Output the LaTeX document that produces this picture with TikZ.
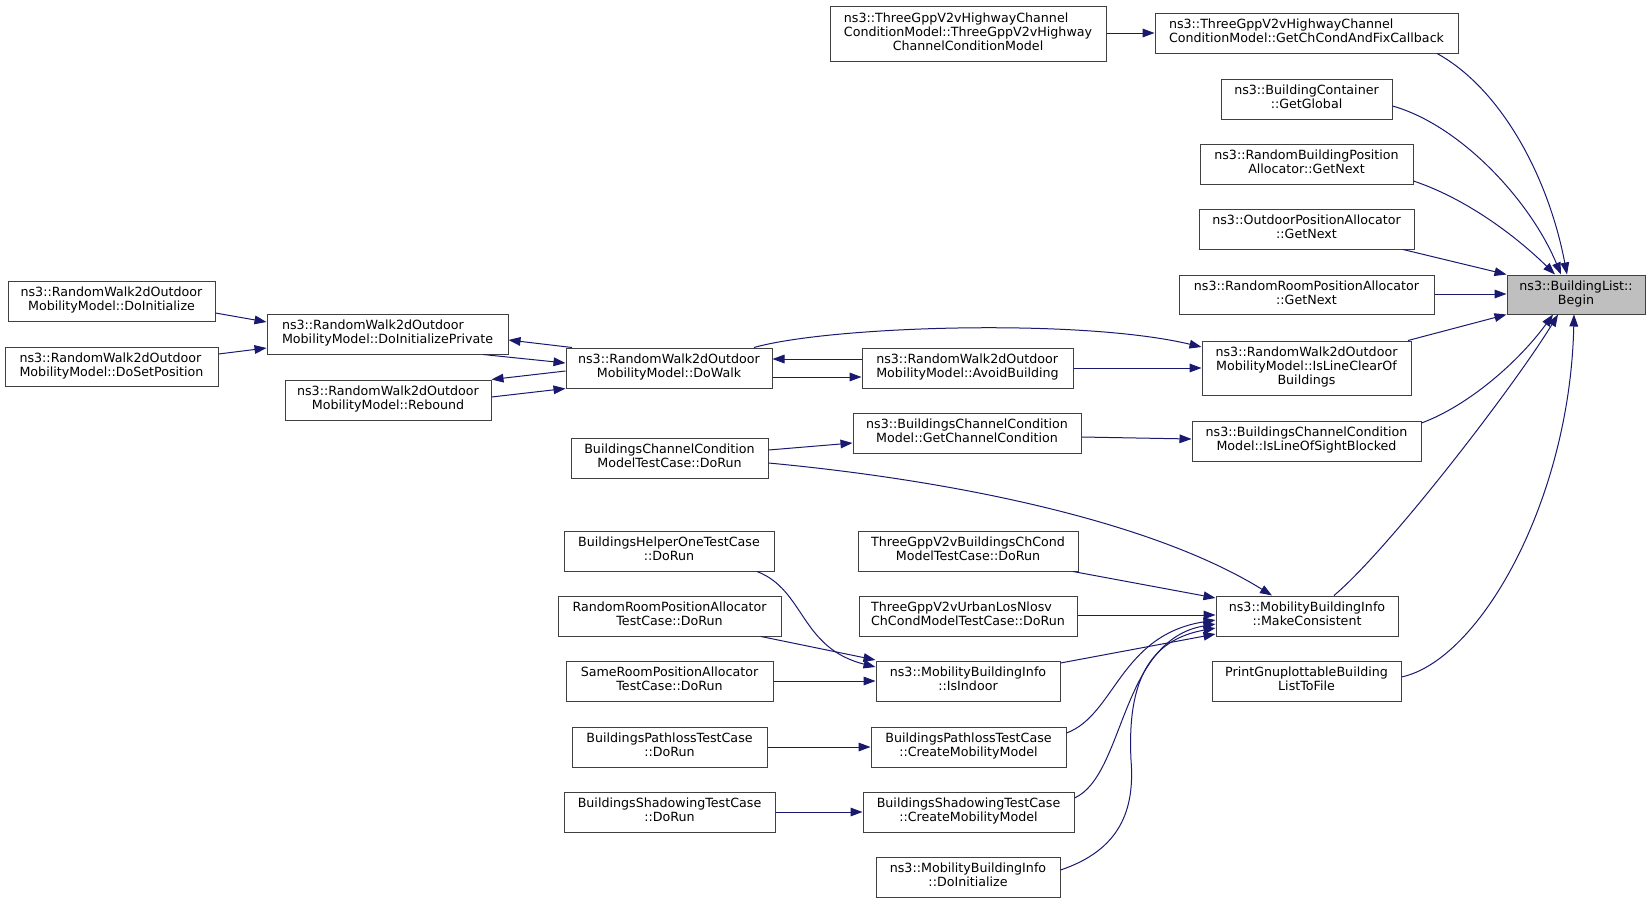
\documentclass[tikz,border=0pt]{standalone}
\usepackage{fontspec}
\setmainfont{DejaVu Sans}
\usetikzlibrary{arrows.meta}
\definecolor{edgec}{HTML}{191970}
\definecolor{nodeb}{HTML}{404040}
\newcommand\tbl[1]{\begin{tabular}{@{}c@{}}#1\end{tabular}}
\newcommand\lfl[1]{\multicolumn{1}{@{}l@{}}{#1}}
\newcommand\bx[7][]{\node[box,#1, minimum width={(#5-#3)*0.75pt}, minimum height={(#6-#4)*0.75pt}] (#2) at ({(#3+#5)/2},{(#4+#6)/2}) {\tbl{#7}};}
\tikzset{
  box/.style={draw=nodeb, fill=white, line width=0.75pt, inner sep=0pt, rectangle},
  e/.style={draw=edgec, line width=0.75pt, -{Triangle[length=9pt,width=6.5pt]}, fill=none},
}
\begin{document}
\begin{tikzpicture}[x=0.75pt,y=-0.75pt,font=\fontsize{9.5}{10.5}\selectfont]
\fill[white] (0,0) rectangle (1651,903);
\useasboundingbox (0,0) rectangle (1651,903);

\bx[fill=gray!50]{begin}{1507}{275}{1645}{314}{ns3::BuildingList::\\Begin}
\bx{gcc}{1155}{13}{1458}{53}{\lfl{ns3::ThreeGppV2vHighwayChannel}\\ConditionModel::GetChCondAndFixCallback}
\bx{ctor}{830}{6}{1106}{61}{\lfl{ns3::ThreeGppV2vHighwayChannel}\\ConditionModel::ThreeGppV2vHighway\\ChannelConditionModel}
\bx{gglobal}{1221}{79}{1392}{119}{ns3::BuildingContainer\\::GetGlobal}
\bx{rbpa}{1200}{144}{1413}{184}{ns3::RandomBuildingPosition\\Allocator::GetNext}
\bx{opa}{1199}{209}{1414}{249}{ns3::OutdoorPositionAllocator\\::GetNext}
\bx{rrpa}{1179}{275}{1434}{314}{ns3::RandomRoomPositionAllocator\\::GetNext}
\bx{ilc}{1202}{341}{1411}{395}{\lfl{ns3::RandomWalk2dOutdoor}\\MobilityModel::IsLineClearOf\\Buildings}
\bx{ilos}{1192}{421}{1421}{461}{ns3::BuildingsChannelCondition\\Model::IsLineOfSightBlocked}
\bx{mc}{1216}{596}{1398}{636}{ns3::MobilityBuildingInfo\\::MakeConsistent}
\bx{pgb}{1212}{661}{1401}{701}{PrintGnuplottableBuilding\\ListToFile}
\bx{rwdi}{8}{281}{215}{321}{ns3::RandomWalk2dOutdoor\\MobilityModel::DoInitialize}
\bx{rwdsp}{5}{347}{218}{386}{\lfl{ns3::RandomWalk2dOutdoor}\\MobilityModel::DoSetPosition}
\bx{dip}{267}{314}{508}{354}{\lfl{ns3::RandomWalk2dOutdoor}\\MobilityModel::DoInitializePrivate}
\bx{reb}{285}{380}{491}{420}{ns3::RandomWalk2dOutdoor\\MobilityModel::Rebound}
\bx{dowalk}{566}{348}{772}{388}{ns3::RandomWalk2dOutdoor\\MobilityModel::DoWalk}
\bx{avoid}{862}{348}{1073}{388}{\lfl{ns3::RandomWalk2dOutdoor}\\MobilityModel::AvoidBuilding}
\bx{gcc2}{853}{413}{1081}{453}{ns3::BuildingsChannelCondition\\Model::GetChannelCondition}
\bx{bccm}{571}{438}{768}{478}{BuildingsChannelCondition\\ModelTestCase::DoRun}
\bx{bho}{564}{531}{774}{571}{BuildingsHelperOneTestCase\\::DoRun}
\bx{tgbc}{858}{531}{1078}{571}{ThreeGppV2vBuildingsChCond\\ModelTestCase::DoRun}
\bx{rrpt}{558}{596}{781}{636}{RandomRoomPositionAllocator\\TestCase::DoRun}
\bx{tgul}{859}{596}{1077}{636}{\lfl{ThreeGppV2vUrbanLosNlosv}\\ChCondModelTestCase::DoRun}
\bx{srpt}{566}{661}{773}{701}{SameRoomPositionAllocator\\TestCase::DoRun}
\bx{isin}{876}{661}{1060}{701}{ns3::MobilityBuildingInfo\\::IsIndoor}
\bx{bpd}{572}{727}{767}{767}{BuildingsPathlossTestCase\\::DoRun}
\bx{bpc}{871}{727}{1066}{767}{BuildingsPathlossTestCase\\::CreateMobilityModel}
\bx{bsd}{564}{792}{775}{832}{BuildingsShadowingTestCase\\::DoRun}
\bx{bsc}{863}{792}{1074}{832}{BuildingsShadowingTestCase\\::CreateMobilityModel}
\bx{mbdi}{876}{857}{1060}{897}{ns3::MobilityBuildingInfo\\::DoInitialize}

% edges into Begin
\draw[e] (ctor.east |- 0,33) -- (gcc.west |- 0,33);
\draw[e] (gcc.south -| 1437,0) .. controls (1500,88) and (1548,175) .. (begin.north -| 1567,0);
\draw[e] (gglobal.east |- 0,106) .. controls (1460,125) and (1530,200) .. (begin.north -| 1561,0);
\draw[e] (rbpa.east |- 0,181) .. controls (1470,200) and (1520,240) .. (begin.north -| 1555,0);
\draw[e] (opa.south -| 1403,0) -- (begin.north west);
\draw[e] (rrpa.east |- 0,294) -- (begin.west |- 0,294);
\draw[e] (ilc.north -| 1408,0) -- (begin.south west);
\draw[e] (ilos.east |- 0,423) .. controls (1470,405) and (1520,360) .. (begin.south -| 1553,0);
\draw[e] (mc.north -| 1334,0) .. controls (1390,548) and (1515,385) .. (begin.south -| 1558,0);
\draw[e] (pgb.east |- 0,677) .. controls (1480,660) and (1570,500) .. (begin.south -| 1574,0);

% middle
\draw[e] (dowalk.north -| 754,0) .. controls (830,326) and (1080,318) .. (ilc.west |- 0,347);
\draw[e] (avoid.east |- 0,368) -- (ilc.west |- 0,368);
\draw[e] (gcc2.east |- 0,437) -- (ilos.west |- 0,439);
\draw[e] (avoid.west |- 0,359) -- (dowalk.east |- 0,359);
\draw[e] (dowalk.east |- 0,377) -- (avoid.west |- 0,377);
\draw[e] (dowalk.north -| 572,0) -- (dip.east |- 0,340);
\draw[e] (dip.south -| 483,0) -- (dowalk.west |- 0,363);
\draw[e] (dowalk.west |- 0,371) -- (reb.north east);
\draw[e] (reb.east |- 0,397) -- (dowalk.south west);
\draw[e] (rwdi.east |- 0,313) -- (dip.west |- 0,322);
\draw[e] (rwdsp.east |- 0,354) -- (dip.west |- 0,348);
\draw[e] (bccm.east |- 0,450) -- (gcc2.west |- 0,443);
\draw[e] (bccm.east |- 0,463) .. controls (950,480) and (1150,520) .. (mc.north -| 1272,0);

% into MakeConsistent
\draw[e] (tgbc.south -| 1073,0) -- (mc.west |- 0,598);
\draw[e] (tgul.east |- 0,615) -- (mc.west |- 0,615);
\draw[e] (isin.east |- 0,663) -- (mc.west |- 0,634);
\draw[e] (bpc.east |- 0,733) .. controls (1115,715) and (1120,635) .. (mc.west |- 0,620);
\draw[e] (bsc.east |- 0,798) .. controls (1125,775) and (1120,640) .. (mc.west |- 0,624);
\draw[e] (mbdi.east |- 0,870) .. controls (1120,850) and (1135,810) .. (1131,760) .. controls (1127,680) and (1150,640) .. (mc.west |- 0,628);

% lower left
\draw[e] (bho.south -| 757,0) .. controls (805,590) and (800,648) .. (isin.west |- 0,667);
\draw[e] (rrpt.south -| 761,0) -- (isin.west |- 0,660);
\draw[e] (srpt.east |- 0,681) -- (isin.west |- 0,681);
\draw[e] (bpd.east |- 0,747) -- (bpc.west |- 0,747);
\draw[e] (bsd.east |- 0,812) -- (bsc.west |- 0,812);
\end{tikzpicture}
\end{document}
